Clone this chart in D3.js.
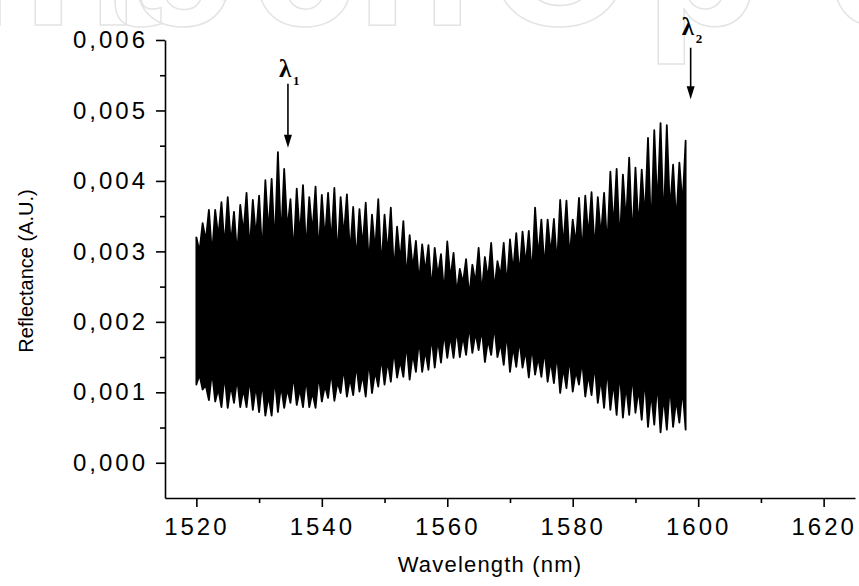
<!DOCTYPE html>
<html>
<head>
<meta charset="utf-8">
<script src="https://cdn.jsdelivr.net/npm/d3@7/dist/d3.min.js"></script>
<style>
  body { margin: 0; background: #fff; }
  svg { display: block; }
</style>
</head>
<body>
<svg id="chart" width="859" height="586"></svg>
<script>
var width = 859, height = 586;

// spectrum, one sample per nm
// tips = extreme of the fringes, base = level between two fringes (at +0.5 nm)
var wavelengths = d3.range(1520, 1599);

var upperTip = [
  0.00320, 0.00340, 0.00359, 0.00359, 0.00370, 0.00377, 0.00356, 0.00366, 0.00383, 0.00373,
  0.00379, 0.00401, 0.00403, 0.00441, 0.00417, 0.00374, 0.00389, 0.00394, 0.00377, 0.00392,
  0.00380, 0.00383, 0.00390, 0.00377, 0.00381, 0.00363, 0.00360, 0.00369, 0.00352, 0.00374,
  0.00352, 0.00362, 0.00335, 0.00343, 0.00323, 0.00315, 0.00310, 0.00309, 0.00305, 0.00296,
  0.00314, 0.00298, 0.00275, 0.00289, 0.00281, 0.00305, 0.00292, 0.00312, 0.00286, 0.00312,
  0.00317, 0.00326, 0.00328, 0.00329, 0.00362, 0.00345, 0.00345, 0.00346, 0.00373, 0.00372,
  0.00345, 0.00376, 0.00379, 0.00384, 0.00377, 0.00383, 0.00413, 0.00417, 0.00409, 0.00433,
  0.00419, 0.00416, 0.00461, 0.00472, 0.00482, 0.00479, 0.00423, 0.00426, 0.00457
];

var upperBase = [
  0.00300, 0.00315, 0.00295, 0.00320, 0.00305, 0.00310, 0.00295, 0.00325, 0.00300, 0.00320,
  0.00295, 0.00325, 0.00305, 0.00315, 0.00330, 0.00295, 0.00320, 0.00300, 0.00325, 0.00295,
  0.00315, 0.00310, 0.00290, 0.00320, 0.00295, 0.00285, 0.00305, 0.00280, 0.00300, 0.00275,
  0.00295, 0.00270, 0.00285, 0.00260, 0.00275, 0.00255, 0.00270, 0.00245, 0.00265, 0.00240,
  0.00260, 0.00240, 0.00255, 0.00235, 0.00255, 0.00240, 0.00260, 0.00245, 0.00265, 0.00250,
  0.00270, 0.00265, 0.00280, 0.00265, 0.00290, 0.00275, 0.00295, 0.00280, 0.00305, 0.00290,
  0.00310, 0.00295, 0.00320, 0.00300, 0.00320, 0.00305, 0.00330, 0.00310, 0.00340, 0.00315,
  0.00330, 0.00345, 0.00325, 0.00360, 0.00335, 0.00355, 0.00340, 0.00365, 0.00360
];

var lowerTip = [
  0.00111, 0.00104, 0.00089, 0.00087, 0.00079, 0.00078, 0.00085, 0.00079, 0.00079, 0.00075,
  0.00072, 0.00067, 0.00067, 0.00072, 0.00078, 0.00085, 0.00082, 0.00079, 0.00079, 0.00078,
  0.00087, 0.00092, 0.00088, 0.00099, 0.00094, 0.00096, 0.00101, 0.00094, 0.00099, 0.00108,
  0.00111, 0.00115, 0.00121, 0.00122, 0.00118, 0.00129, 0.00129, 0.00132, 0.00135, 0.00142,
  0.00149, 0.00149, 0.00150, 0.00153, 0.00156, 0.00160, 0.00143, 0.00153, 0.00150, 0.00139,
  0.00129, 0.00136, 0.00135, 0.00121, 0.00125, 0.00122, 0.00115, 0.00113, 0.00099, 0.00106,
  0.00101, 0.00111, 0.00094, 0.00096, 0.00085, 0.00078, 0.00075, 0.00068, 0.00064, 0.00068,
  0.00071, 0.00061, 0.00051, 0.00054, 0.00043, 0.00047, 0.00051, 0.00057, 0.00047
];

var lowerBase = [
  0.00125, 0.00110, 0.00130, 0.00105, 0.00125, 0.00110, 0.00120, 0.00105, 0.00120, 0.00110,
  0.00115, 0.00095, 0.00120, 0.00110, 0.00105, 0.00125, 0.00105, 0.00120, 0.00100, 0.00125,
  0.00110, 0.00130, 0.00115, 0.00135, 0.00120, 0.00140, 0.00125, 0.00145, 0.00130, 0.00150,
  0.00145, 0.00160, 0.00145, 0.00170, 0.00155, 0.00175, 0.00160, 0.00180, 0.00175, 0.00185,
  0.00180, 0.00190, 0.00180, 0.00195, 0.00185, 0.00190, 0.00175, 0.00195, 0.00170, 0.00185,
  0.00165, 0.00175, 0.00160, 0.00165, 0.00150, 0.00160, 0.00145, 0.00155, 0.00135, 0.00150,
  0.00130, 0.00145, 0.00125, 0.00140, 0.00120, 0.00135, 0.00115, 0.00130, 0.00110, 0.00125,
  0.00105, 0.00120, 0.00100, 0.00115, 0.00095, 0.00110, 0.00090, 0.00105, 0.00085
];

var xTicks = [1520, 1540, 1560, 1580, 1600, 1620];
var xMinor = [1530, 1550, 1570, 1590, 1610];
var yTicks = [0, 0.001, 0.002, 0.003, 0.004, 0.005, 0.006];
var yMinor = [0.0005, 0.0015, 0.0025, 0.0035, 0.0045, 0.0055];

// the two marked wavelengths
var markerWl = [1534.6, 1598.8];
var markerSub = ['1', '2'];

var svg = d3.select('#chart');

var x = d3.scaleLinear()
	.domain([1515, 1625])
	.range([165, 855]);

var y = d3.scaleLinear()
	.domain([-0.0005, 0.006])
	.range([498, 40]);

// faint publisher watermark, mostly cut off by the top edge
var wmX = [-40, 22, 100, 128, 250, 356, 486, 645, 826, 940];
svg.append('text')
	.attr('x', wmX.join(' '))
	.attr('y', 25)
	.attr('font-family', 'Liberation Sans, Arial, sans-serif')
	.attr('font-weight', 'bold')
	.attr('font-size', 190)
	.attr('fill', 'none')
	.attr('stroke', '#e4e4e4')
	.attr('stroke-width', 1.5)
	.text('IntechOpen');

// build the fringe outline: tip at each nm, base half way between
var rows = [];
wavelengths.forEach(function(w, i) {
	rows.push({w: w, hi: upperTip[i], lo: lowerTip[i]});
	if (i < wavelengths.length - 1) rows.push({w: w + 0.5, hi: upperBase[i], lo: lowerBase[i]});
});

var area = d3.area()
	.x(function(d) { return x(d.w); })
	.y0(function(d) { return y(d.lo); })
	.y1(function(d) { return y(d.hi); });

svg.append('path')
	.datum(rows)
	.attr('d', area)
	.attr('fill', '#000')
	.attr('stroke', '#000')
	.attr('stroke-width', 1.8)
	.attr('stroke-linejoin', 'round');

var fmt = function(d) { return d3.format('.3f')(d).replace('.', ','); };

// axes
svg.append('g')
	.attr('transform', 'translate(165,0)')
	.call(d3.axisLeft(y).tickValues(yTicks).tickSize(9).tickSizeOuter(0).tickPadding(8).tickFormat(fmt));
svg.append('g')
	.attr('transform', 'translate(165,0)')
	.call(d3.axisLeft(y).tickValues(yMinor).tickSize(5).tickFormat(''))
	.select('.domain').remove();

svg.append('g')
	.attr('transform', 'translate(0,498)')
	.call(d3.axisBottom(x).tickValues(xTicks).tickSize(9).tickSizeOuter(0).tickPadding(11).tickFormat(d3.format('d')));
svg.append('g')
	.attr('transform', 'translate(0,498)')
	.call(d3.axisBottom(x).tickValues(xMinor).tickSize(5).tickFormat(''))
	.select('.domain').remove();

svg.selectAll('.domain, .tick line')
	.attr('stroke', '#000')
	.attr('stroke-width', 1.6);

svg.selectAll('.tick text')
	.attr('fill', '#000')
	.attr('font-family', 'Liberation Sans, Arial, sans-serif')
	.attr('font-size', 24)
	.style('letter-spacing', '3px');

// axis titles
svg.append('text')
	.attr('x', 490)
	.attr('y', 572)
	.attr('text-anchor', 'middle')
	.attr('font-family', 'Liberation Sans, Arial, sans-serif')
	.attr('font-size', 22)
	.style('letter-spacing', '1.2px')
	.text('Wavelength (nm)');

svg.append('text')
	.attr('transform', 'translate(33,271) rotate(-90)')
	.attr('text-anchor', 'middle')
	.attr('font-family', 'Liberation Sans, Arial, sans-serif')
	.attr('font-size', 20)
	.text('Reflectance (A.U.)');

// arrows + lambda labels
var arrowTop = [0.00538, 0.00589];
var arrowTip = [0.00447, 0.00516];
var labelBase = [0.00548, 0.00607];

markerWl.forEach(function(w, i) {
	var ax = x(w);
	var tipY = y(arrowTip[i]);
	svg.append('line')
		.attr('x1', ax).attr('x2', ax)
		.attr('y1', y(arrowTop[i])).attr('y2', tipY - 10)
		.attr('stroke', '#000')
		.attr('stroke-width', 1.6);
	svg.append('path')
		.attr('d', 'M' + (ax - 4) + ',' + (tipY - 13) + 'L' + (ax + 4) + ',' + (tipY - 13) + 'L' + ax + ',' + tipY + 'Z')
		.attr('fill', '#000');
	svg.append('text')
		.attr('x', ax - 9)
		.attr('y', y(labelBase[i]))
		.attr('font-family', 'Liberation Serif, Times New Roman, serif')
		.attr('font-weight', 'bold')
		.attr('font-size', 25)
		.text('\u03bb');
	svg.append('text')
		.attr('x', ax + 5)
		.attr('y', y(labelBase[i]) + 8)
		.attr('font-family', 'Liberation Serif, Times New Roman, serif')
		.attr('font-weight', 'bold')
		.attr('font-size', 13)
		.text(markerSub[i]);
});
</script>
</body>
</html>
